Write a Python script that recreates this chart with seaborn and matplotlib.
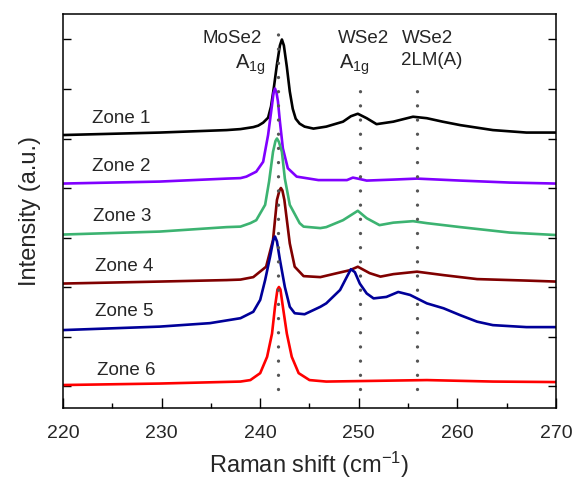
import matplotlib
matplotlib.use("Agg")
import matplotlib.pyplot as plt
import seaborn as sns
import pandas as pd

# ---- data ----
zone_names = ["Zone 1", "Zone 2", "Zone 3", "Zone 4", "Zone 5", "Zone 6"]

zone1_x = [220, 229.8, 236.6, 238.0, 239.3, 239.8, 240.3, 240.8, 241.1, 241.4, 241.7, 242.0,
           242.2, 242.4, 242.7, 243.0, 243.3, 243.6, 244.0, 244.5, 245.4, 246.7, 248.4,
           249.2, 249.9, 250.4, 250.8, 251.8, 253.5, 255.5, 256.9, 258.5, 260.3, 263.6,
           267.0, 270]
zone1_y = [5.07, 5.12, 5.17, 5.19, 5.23, 5.26, 5.32, 5.42, 5.65, 6.05, 6.5, 6.88,
           7.0, 6.88, 6.45, 5.95, 5.6, 5.4, 5.3, 5.24, 5.2, 5.24, 5.34,
           5.45, 5.5, 5.45, 5.41, 5.29, 5.34, 5.44, 5.41, 5.34, 5.27, 5.17,
           5.12, 5.12]

zone2_x = [220, 229.8, 236.6, 238.0, 238.6, 239.6, 240.3, 240.8, 241.2, 241.35, 241.5,
           241.65, 241.8, 242.0, 242.3, 242.8, 243.7, 245.9, 248.8, 249.4, 249.9, 250.8,
           253.5, 255.9, 260.3, 265.3, 270]
zone2_y = [4.09, 4.13, 4.19, 4.20, 4.23, 4.33, 4.53, 5.07, 5.68, 5.92, 6.01,
           5.93, 5.75, 5.34, 4.8, 4.4, 4.23, 4.16, 4.16, 4.21, 4.19, 4.15,
           4.17, 4.19, 4.15, 4.11, 4.09]

zone3_x = [220, 229.8, 236.6, 238.0, 239.0, 239.6, 240.5, 240.9, 241.3, 241.55, 241.7,
           241.9, 242.2, 242.5, 243.0, 244.0, 244.4, 246.1, 246.7, 248.4, 249.9, 250.8,
           252.1, 253.5, 255.5, 256.9, 260.3, 265.3, 270]
zone3_y = [3.06, 3.12, 3.21, 3.22, 3.29, 3.35, 3.66, 4.13, 4.73, 4.95, 5.0,
           4.93, 4.73, 4.19, 3.66, 3.29, 3.22, 3.19, 3.21, 3.35, 3.54, 3.39,
           3.25, 3.30, 3.33, 3.29, 3.21, 3.10, 3.05]

zone4_x = [220, 229.8, 236.6, 238.0, 239.3, 240.6, 241.3, 241.7, 241.95, 242.1, 242.25,
           242.45, 243.0, 243.5, 244.4, 246.1, 247.8, 249.1, 249.9, 251.1, 252.2, 253.5,
           255.9, 258.6, 262.0, 267.0, 270]
zone4_y = [2.07, 2.11, 2.14, 2.15, 2.2, 2.41, 2.95, 3.76, 3.95, 4.0, 3.95,
           3.76, 2.88, 2.41, 2.22, 2.2, 2.28, 2.34, 2.41, 2.28, 2.21, 2.26,
           2.31, 2.24, 2.16, 2.13, 2.11]

zone5_x = [220, 229.8, 234.9, 238.0, 239.3, 240.0, 240.5, 241.0, 241.35, 241.5, 241.7,
           242.0, 242.5, 243.0, 243.5, 244.5, 246.1, 246.7, 248.1, 248.8, 249.2, 249.6,
           250.1, 250.8, 251.5, 252.8, 254.0, 255.2, 256.9, 258.6, 260.3, 262.0, 263.6,
           267.0, 270]
zone5_y = [1.13, 1.2, 1.27, 1.37, 1.5, 1.74, 2.14, 2.61, 2.97, 3.02, 2.92,
           2.55, 2.0, 1.6, 1.47, 1.45, 1.6, 1.67, 1.94, 2.21, 2.36, 2.3,
           2.07, 1.87, 1.77, 1.8, 1.9, 1.84, 1.67, 1.57, 1.43, 1.3, 1.23,
           1.19, 1.19]

zone6_x = [220, 229.8, 238.0, 239.0, 240.0, 240.7, 241.2, 241.5, 241.75, 241.9, 242.05,
           242.3, 242.7, 243.2, 243.9, 245.0, 246.7, 256.9, 263.6, 270]
zone6_y = [0.02, 0.05, 0.09, 0.12, 0.26, 0.59, 1.06, 1.6, 1.95, 2.0, 1.95,
           1.6, 1.06, 0.59, 0.26, 0.12, 0.09, 0.12, 0.09, 0.08]

zone_colors = ["#000000", "#8000ff", "#3cb371", "#800000", "#000099", "#ff0000"]

# zone label anchor positions (data coords, left edge / vertical center)
label_x = [222.9, 222.9, 223.0, 223.2, 223.2, 223.4]
label_y = [5.41, 4.44, 3.42, 2.42, 1.50, 0.32]

peak_positions = [241.8, 250.1, 255.9]
peak_line_top = [7.19, 6.22, 6.22]
peak_line_bottom = -0.06

x_ticks = [220, 230, 240, 250, 260, 270]

# ---- build long table ----
frames = []
for name, xs, ys in zip(zone_names,
                        [zone1_x, zone2_x, zone3_x, zone4_x, zone5_x, zone6_x],
                        [zone1_y, zone2_y, zone3_y, zone4_y, zone5_y, zone6_y]):
    frames.append(pd.DataFrame({"shift": xs, "intensity": ys, "zone": name}))
df = pd.concat(frames, ignore_index=True)

# ---- style ----
sns.set_style("ticks")
plt.rcParams["font.family"] = ["Liberation Sans", "DejaVu Sans"]
plt.rcParams["mathtext.fontset"] = "custom"
plt.rcParams["mathtext.rm"] = "Liberation Sans"
plt.rcParams["mathtext.it"] = "Liberation Sans:italic"
plt.rcParams["mathtext.bf"] = "Liberation Sans:bold"
plt.rcParams["lines.scale_dashes"] = False

fig = plt.figure(figsize=(5.74, 4.83), dpi=100)
ax = fig.add_axes([63 / 574, 1 - 408 / 483, (556 - 63) / 574, (408 - 14) / 483])

for name, col in zip(zone_names, zone_colors):
    sub = df[df["zone"] == name]
    sns.lineplot(data=sub, x="shift", y="intensity", color=col, lw=1.9, ax=ax,
                 estimator=None, sort=True, legend=False,
                 solid_joinstyle="round", solid_capstyle="round")

for px, top in zip(peak_positions, peak_line_top):
    ax.plot([px, px], [peak_line_bottom, top], color="#555555", lw=2.4,
            linestyle=(0, (0.01, 10.2)), dash_capstyle="round", zorder=6)

for name, lx, ly in zip(zone_names, label_x, label_y):
    ax.text(lx, ly, name, fontsize=13.5, ha="left", va="center")

ax.text(237.2, 7.03, "MoSe2", fontsize=13.5, ha="center", va="center")
ax.text(239.0, 6.48, r"$\mathrm{A_{1g}}$", fontsize=14.5, ha="center", va="center")
ax.text(250.5, 7.03, "WSe2", fontsize=13.5, ha="center", va="center")
ax.text(249.5, 6.48, r"$\mathrm{A_{1g}}$", fontsize=14.5, ha="center", va="center")
ax.text(257.0, 7.03, "WSe2", fontsize=13.5, ha="center", va="center")
ax.text(257.4, 6.57, "2LM(A)", fontsize=13.5, ha="center", va="center")

ax.set_xlim(220, 270)
ax.set_ylim(-0.444, 7.515)
ax.set_xticks(x_ticks)
ax.set_xticks([225, 235, 245, 255, 265], minor=True)
ax.set_yticks(range(0, 8))
ax.tick_params(axis="both", which="both", direction="in", right=True, top=False,
               labelleft=False, width=1.0, color="black")
ax.tick_params(axis="x", which="major", length=7, labelsize=14, pad=12)
ax.tick_params(axis="x", which="minor", length=3.5)
ax.tick_params(axis="y", which="major", length=6)
for sp in ax.spines.values():
    sp.set_linewidth(1.1)
    sp.set_color("black")

ax.set_xlabel(r"Raman shift (cm$^{-1}$)", fontsize=17, labelpad=6)
ax.set_ylabel("Intensity (a.u.)", fontsize=17, labelpad=16)

fig.savefig("out.png", dpi=100)
